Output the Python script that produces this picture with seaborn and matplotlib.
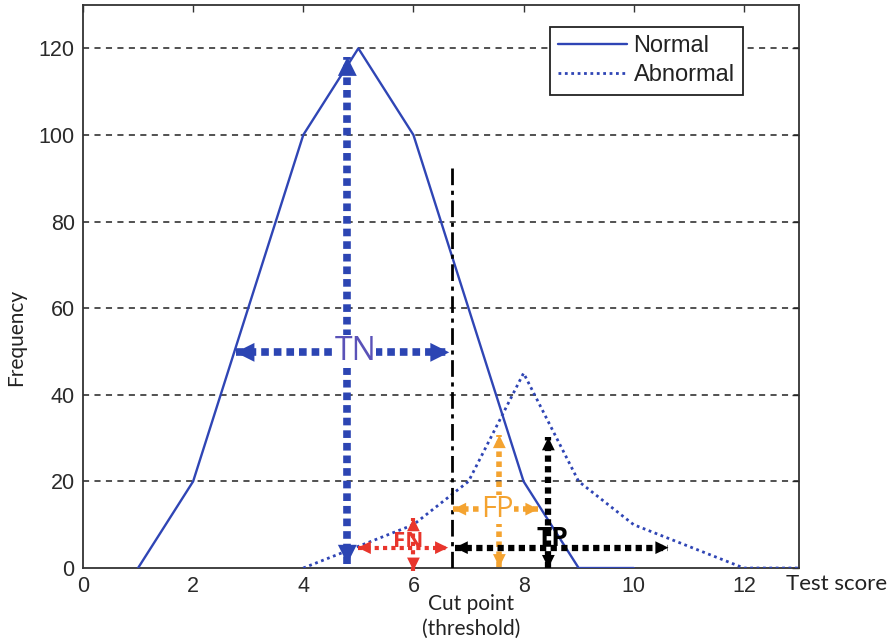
import matplotlib
matplotlib.use("Agg")
import matplotlib.pyplot as plt
import seaborn as sns
import pandas as pd

# Frequency of test scores for the two populations
score_normal = [1, 2, 4, 5, 6, 8, 9, 10]
freq_normal = [0, 20, 100, 120, 100, 20, 0, 0]
score_abnormal = [4, 5, 6, 7, 8, 9, 10, 11, 12, 13]
freq_abnormal = [0, 5, 10, 20, 45, 20, 10, 5, 0, 0]

cut_point = 6.7
cut_top = 93

x_ticks = [0, 2, 4, 6, 8, 10, 12]
y_ticks = [0, 20, 40, 60, 80, 100, 120]

# Double-headed region arrows: (x0, y0, x1, y1)
tn_arrows = [(4.8, 1, 4.8, 118), (2.77, 49.8, 6.65, 49.8)]
fn_arrows = [(6.0, -0.6, 6.0, 11.5), (4.99, 4.7, 6.63, 4.7)]
fp_arrows = [(7.56, 0.2, 7.56, 30.7), (6.72, 13.6, 8.27, 13.6)]
tp_arrows = [(8.45, 0.0, 8.45, 30.2), (6.75, 4.7, 10.63, 4.7)]

sns.set_style("white")
plt.rcParams["font.family"] = ["Liberation Sans", "DejaVu Sans"]

BLUE = "#2f45b5"
fig = plt.figure(figsize=(8.95, 6.43), dpi=100)
ax = fig.add_axes([0.0927, 0.1166, 0.8000, 0.8756])

df_n = pd.DataFrame({"score": score_normal, "freq": freq_normal})
df_a = pd.DataFrame({"score": score_abnormal, "freq": freq_abnormal})
sns.lineplot(data=df_n, x="score", y="freq", ax=ax, color=BLUE, lw=1.7,
             label="Normal", zorder=3)
sns.lineplot(data=df_a, x="score", y="freq", ax=ax, color=BLUE, lw=2.0,
             linestyle=(0, (1, 1.3)), label="Abnormal", zorder=3)

ax.set_xlim(0, 13)
ax.set_ylim(0, 130)
ax.set_xticks(x_ticks)
ax.set_yticks(y_ticks)
ax.set_xlabel("")
ax.set_ylabel("")

for yv in y_ticks[1:]:
    ax.axhline(yv, color="#222222", lw=1.1, linestyle=(0, (4, 3.5)), zorder=1)

for s in ax.spines.values():
    s.set_color("#333333")
    s.set_linewidth(1.3)
    s.set_visible(True)
ax.tick_params(direction="in", length=5, width=1, top=True, right=True,
               colors="#333333", labelsize=15.5, pad=6, labelcolor="#2a2a2a")

# Threshold line
ax.plot([cut_point, cut_point], [0, cut_top], color="black", lw=2,
        linestyle=(0, (6, 2, 1.5, 2)), zorder=4)


def draw_arrow(seg, color, lw, pattern, head):
    x0, y0, x1, y1 = seg
    ax.plot([x0, x1], [y0, y1], color=color, lw=lw, linestyle=pattern,
            solid_capstyle="butt", dash_capstyle="butt", zorder=5, clip_on=False)
    for (tx, ty), (fx, fy) in (((x1, y1), (x0, y0)), ((x0, y0), (x1, y1))):
        ax.annotate("", xy=(tx, ty),
                    xytext=(tx + (fx - tx) * 0.04, ty + (fy - ty) * 0.04),
                    arrowprops=dict(arrowstyle=f"-|>,head_length={head[0]},head_width={head[1]}",
                                    color=color, lw=0, shrinkA=0, shrinkB=0,
                                    mutation_scale=20),
                    zorder=6, annotation_clip=False)


for seg in tn_arrows:
    draw_arrow(seg, "#2c45b3", 5.5, (0, (1, 0.65)), (0.68, 0.34))
for seg in fn_arrows:
    draw_arrow(seg, "#e8352c", 3.0, (0, (1, 1)), (0.47, 0.23))
for seg in fp_arrows:
    draw_arrow(seg, "#f4a330", 4.0, (0, (1, 0.8)), (0.47, 0.23))
for seg in tp_arrows:
    draw_arrow(seg, "black", 4.5, (0, (1, 0.7)), (0.47, 0.23))

ax.text(4.95, 50, "TN", color="#5a52b8", fontsize=23, ha="center", va="center",
        family=["Open Sans", "DejaVu Sans"], zorder=7,
        bbox=dict(facecolor="white", edgecolor="none", pad=0))
ax.text(5.91, 6.2, "FN", color="#e8352c", fontsize=16, fontweight="bold",
        ha="center", va="center", family=["Open Sans", "DejaVu Sans"], zorder=7)
ax.text(7.53, 13.4, "FP", color="#f4a330", fontsize=21, ha="center", va="center",
        family=["Open Sans", "DejaVu Sans"], zorder=7,
        bbox=dict(facecolor="white", edgecolor="none", pad=0))
ax.text(8.53, 6.8, "TP", color="black", fontsize=19, fontweight="bold",
        ha="center", va="center", family=["Open Sans", "DejaVu Sans"], zorder=7)

# Axis captions
fig.text(0.018, 0.475, "Frequency", rotation=90, ha="center", va="center",
         fontsize=15, color="#222222", family=["Lato", "DejaVu Sans"])
fig.text(0.935, 0.091, "Test score", ha="center", va="center",
         fontsize=16, color="#222222", family=["Lato", "DejaVu Sans"])
fig.text(0.526, 0.042, "Cut point\n(threshold)", ha="center", va="center",
         fontsize=15, color="#222222", linespacing=1.3,
         family=["Lato", "DejaVu Sans"])

leg = ax.legend(loc="upper right", bbox_to_anchor=(0.9218, 0.961), fontsize=17,
                frameon=True, fancybox=False, framealpha=1, edgecolor="#222222",
                handlelength=2.9, borderpad=0.35, labelspacing=0.3,
                handletextpad=0.3, borderaxespad=0)
leg.get_frame().set_linewidth(1.3)
for t in leg.get_texts():
    t.set_color("#222222")

fig.savefig("out.png", dpi=100, facecolor="white")
